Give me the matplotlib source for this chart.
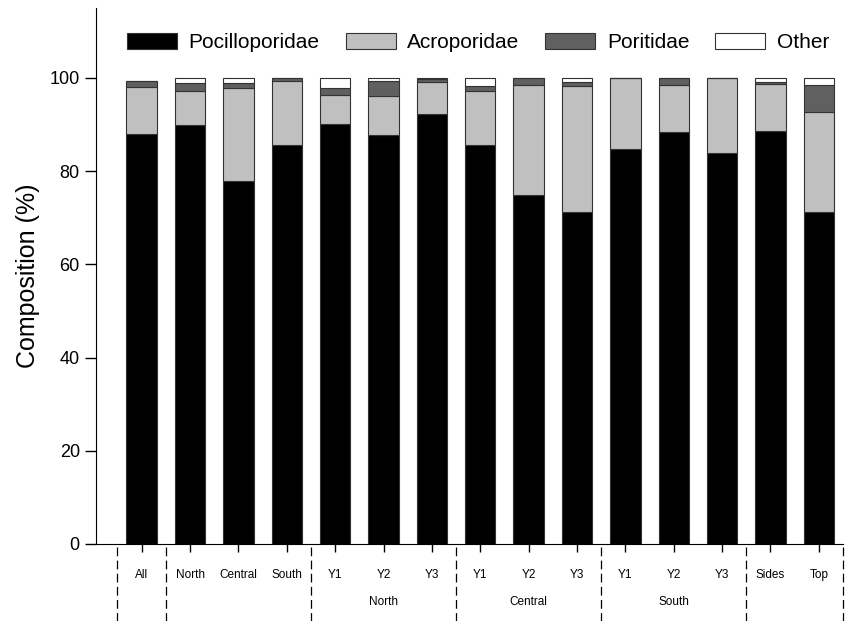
import matplotlib
matplotlib.use('Agg')
import matplotlib.pyplot as plt
import numpy as np
from matplotlib.transforms import blended_transform_factory

plt.rcParams['font.family'] = ['Liberation Sans', 'DejaVu Sans']

# Coral family composition (%) by site / year / position
labels = ['All', 'North', 'Central', 'South',
          'Y1', 'Y2', 'Y3', 'Y1', 'Y2', 'Y3', 'Y1', 'Y2', 'Y3',
          'Sides', 'Top']
pocilloporidae = [87.9, 90.0, 77.8, 85.7, 90.2, 87.7, 92.2, 85.7, 74.8, 71.2,
                  84.7, 88.4, 84.0, 88.6, 71.2]
acroporidae = [10.2, 7.2, 20.0, 13.6, 6.1, 8.4, 7.0, 11.5, 23.8, 27.1,
               15.3, 10.1, 16.0, 10.1, 21.6]
poritidae = [1.3, 1.8, 1.1, 0.6, 1.6, 3.3, 0.6, 1.0, 1.4, 0.9,
             0.0, 1.5, 0.0, 0.5, 5.8]
other = [0.0, 1.0, 1.1, 0.1, 2.1, 0.6, 0.2, 1.8, 0.0, 0.8,
         0.0, 0.0, 0.0, 0.8, 1.4]

groups = ['North', 'Central', 'South']
group_centers = [5, 8, 11]
separators = [-0.5, 0.5, 3.5, 6.5, 9.5, 12.5, 14.5]

series = [('Pocilloporidae', pocilloporidae, 'black'),
          ('Acroporidae', acroporidae, '#c0c0c0'),
          ('Poritidae', poritidae, '#606060'),
          ('Other', other, 'white')]

fig = plt.figure(figsize=(8.57, 6.21), dpi=100)
ax = fig.add_axes([0.1117, 0.124, 0.872, 0.863])

x = np.arange(len(labels))
bottom = np.zeros(len(labels))
for name, vals, col in series:
    vals = np.array(vals)
    ax.bar(x, vals, width=0.63, bottom=bottom, color=col,
           edgecolor='#333333', linewidth=0.8, label=name)
    bottom += vals

ax.set_xlim(-0.95, 14.5)
ax.set_ylim(0, 115)
ax.set_yticks([0, 20, 40, 60, 80, 100])
ax.tick_params(axis='y', labelsize=13, length=8, width=1, direction='out')
ax.set_xticks(x)
ax.set_xticklabels(labels)
ax.tick_params(axis='x', labelsize=8.5, length=6, width=1, direction='out', pad=12)
ax.set_ylabel('Composition (%)', fontsize=18, labelpad=7)

for s in ['top', 'right']:
    ax.spines[s].set_visible(False)

# dashed group separators below the axis
trans = blended_transform_factory(ax.transData, ax.transAxes)
for sx in separators:
    ax.plot([sx, sx], [-0.005, -0.145], transform=trans, clip_on=False,
            color='black', lw=0.9, ls=(0, (7, 3.5)))
for g, c in zip(groups, group_centers):
    ax.text(c, -0.108, g, transform=trans, ha='center', va='center', fontsize=8.5)

ax.legend(loc='center', bbox_to_anchor=(0.558, 0.931), bbox_transform=fig.transFigure,
          ncol=4, frameon=False, fontsize=15, handlelength=2.4, handleheight=0.8,
          handletextpad=0.55, columnspacing=1.25, borderpad=0)

fig.savefig('out.png', dpi=100)
